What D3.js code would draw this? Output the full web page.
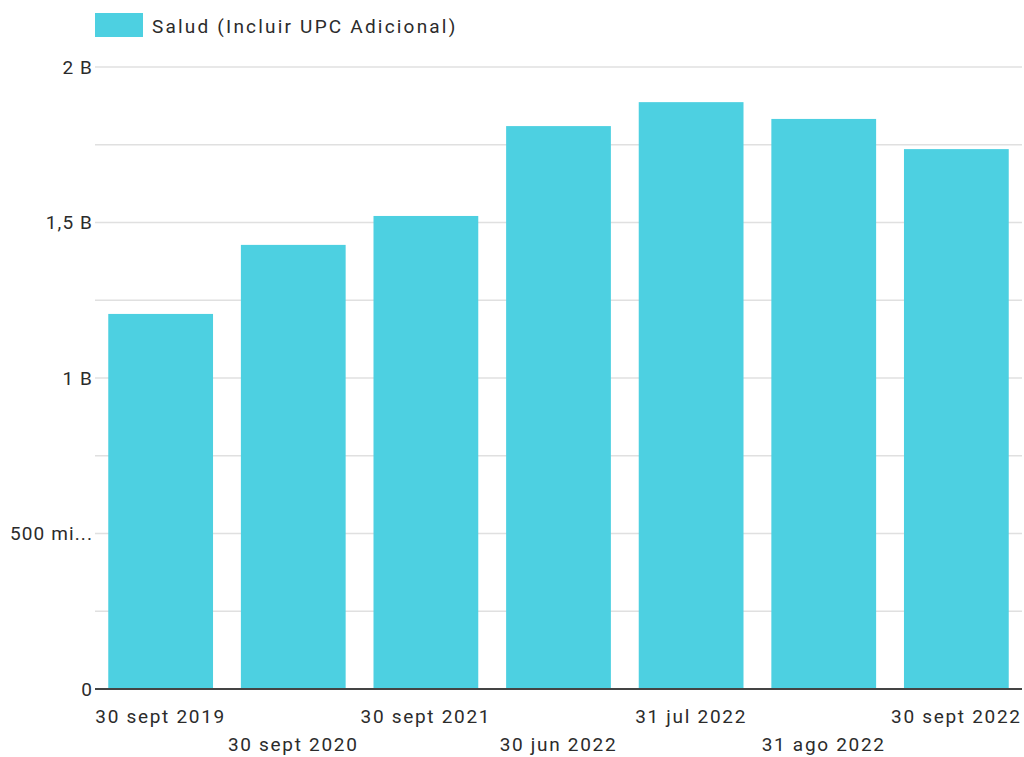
<!DOCTYPE html>
<html lang="es">
<head>
<meta charset="UTF-8">
<title>Salud</title>
<style>
  body { margin: 0; background: #fff; }
  svg { display: block; font-family: Roboto, sans-serif; }
  text { letter-spacing: 1.7px; }
  .ytick { letter-spacing: 1.1px; }
  .legend-label { letter-spacing: 2.2px; }
</style>
</head>
<body>
<div id="chart"></div>
<script src="https://d3js.org/d3.v7.min.js"></script>
<script>
  const categories = ['30 sept 2019', '30 sept 2020', '30 sept 2021', '30 jun 2022', '31 jul 2022', '31 ago 2022', '30 sept 2022']
  const values = [1.206e9, 1.428e9, 1.521e9, 1.810e9, 1.887e9, 1.833e9, 1.736e9]
  const tickValues = [0, 0.5e9, 1e9, 1.5e9, 2e9]
  const tickLabels = ['0', '500 mi...', '1 B', '1,5 B', '2 B']
  const gridValues = [0.25e9, 0.75e9, 1.25e9, 1.75e9]
  const seriesName = 'Salud (Incluir UPC Adicional)'

  const width = 1024, height = 757
  const margin = { top: 67, right: 2, bottom: 68, left: 95 }
  const color = '#4dd0e1'
  const fontSize = 19

  const svg = d3.select('#chart').append('svg')
    .attr('width', width)
    .attr('height', height)

  const x = d3.scaleBand()
    .domain(categories)
    .range([margin.left, width - margin.right])
    .paddingInner(0.21)
    .paddingOuter(0.1)

  const y = d3.scaleLinear()
    .domain([0, 2e9])
    .range([height - margin.bottom, margin.top])

  // gridlines
  svg.append('g')
    .selectAll('line')
    .data(tickValues.slice(1).concat(gridValues))
    .join('line')
    .attr('x1', margin.left)
    .attr('x2', width - margin.right)
    .attr('y1', d => y(d))
    .attr('y2', d => y(d))
    .attr('stroke', '#e0e0e0')
    .attr('stroke-width', 1.5)

  // y tick labels
  svg.append('g')
    .selectAll('text')
    .data(tickValues)
    .join('text')
    .attr('class', 'ytick')
    .attr('x', margin.left - 2)
    .attr('y', d => y(d))
    .attr('dy', '0.35em')
    .attr('text-anchor', 'end')
    .attr('fill', '#2b2b2b')
    .attr('font-size', fontSize)
    .text((d, i) => tickLabels[i])

  // bars
  svg.append('g')
    .selectAll('rect')
    .data(values)
    .join('rect')
    .attr('x', (d, i) => x(categories[i]))
    .attr('width', x.bandwidth())
    .attr('y', d => y(d))
    .attr('height', d => y(0) - y(d))
    .attr('fill', color)

  // baseline
  svg.append('line')
    .attr('x1', margin.left)
    .attr('x2', width - margin.right)
    .attr('y1', y(0))
    .attr('y2', y(0))
    .attr('stroke', '#444')
    .attr('stroke-width', 2)

  // x labels, alternating rows
  svg.append('g')
    .selectAll('text')
    .data(categories)
    .join('text')
    .attr('x', d => x(d) + x.bandwidth() / 2)
    .attr('y', (d, i) => i % 2 === 0 ? 723 : 751)
    .attr('text-anchor', 'middle')
    .attr('fill', '#2b2b2b')
    .attr('font-size', fontSize)
    .text(d => d)

  // legend
  const legend = svg.append('g')
  legend.append('rect')
    .attr('x', 95).attr('y', 13)
    .attr('width', 48).attr('height', 24)
    .attr('fill', color)
  legend.append('text')
    .attr('class', 'legend-label')
    .attr('x', 152).attr('y', 33)
    .attr('fill', '#2b2b2b')
    .attr('font-size', fontSize)
    .text(seriesName)
</script>
</body>
</html>
